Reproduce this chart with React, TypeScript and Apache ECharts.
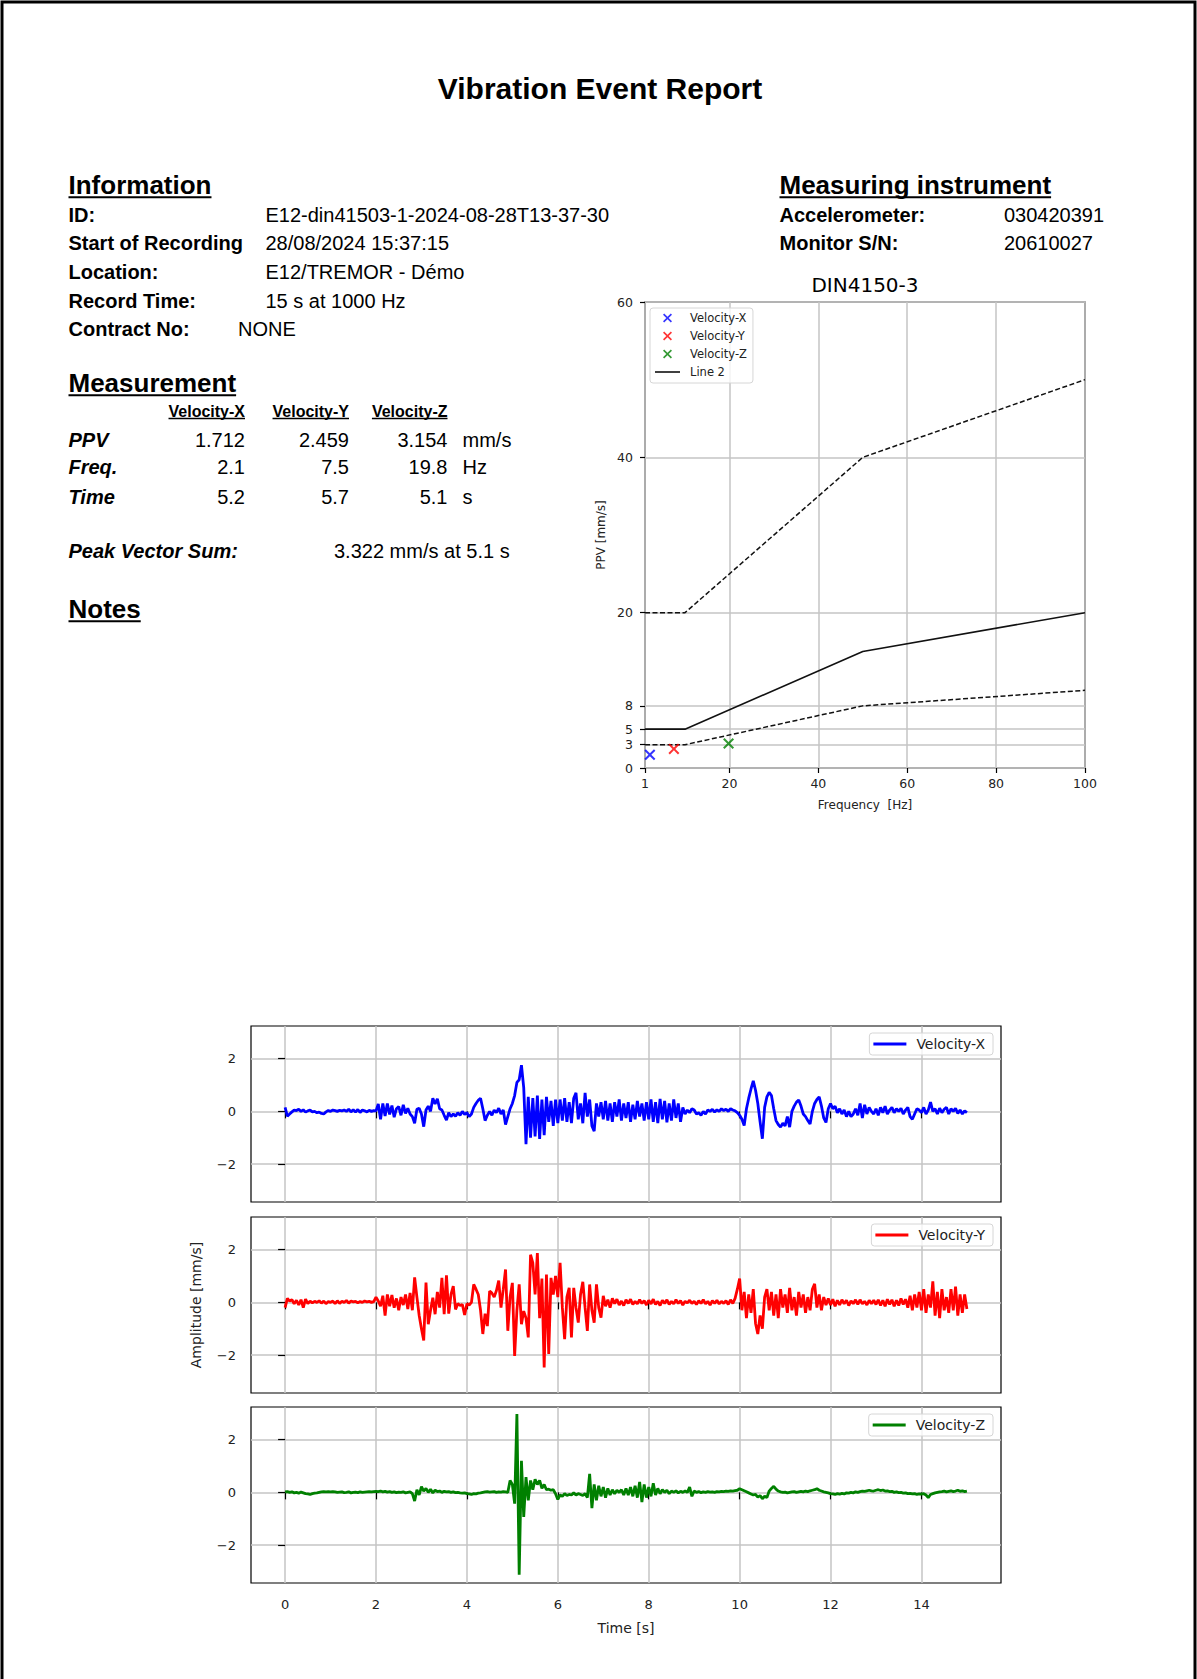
import React, { useEffect, useRef } from "react";
import * as echarts from "echarts";

// ---------------- text content ----------------
const REPORT_TITLE = "Vibration Event Report";
const INFO_LABELS = ["ID:", "Start of Recording", "Location:", "Record Time:", "Contract No:"];
const INFO_VALUES = ["E12-din41503-1-2024-08-28T13-37-30", "28/08/2024 15:37:15", "E12/TREMOR - Démo", "15 s at 1000 Hz", "NONE"];
const INSTRUMENT_LABELS = ["Accelerometer:", "Monitor S/N:"];
const INSTRUMENT_VALUES = ["030420391", "20610027"];
const CHANNELS = ["Velocity-X", "Velocity-Y", "Velocity-Z"];
const MEAS_ROWS = ["PPV", "Freq.", "Time"];
const MEAS_UNITS = ["mm/s", "Hz", "s"];
const PPV = [1.712, 2.459, 3.154];
const FREQ = [2.1, 7.5, 19.8];
const PEAK_TIME = [5.2, 5.7, 5.1];
const PVS_TEXT = "3.322 mm/s at 5.1 s";

// ---------------- DIN 4150-3 chart ----------------
const DIN_FREQ = [1, 10, 50, 100];
const DIN_UPPER = [20, 20, 40, 50];
const DIN_LINE2 = [5, 5, 15, 20];
const DIN_LOWER = [3, 3, 8, 10];
const DIN_X_TICKS = [1, 20, 40, 60, 80, 100];
const DIN_Y_TICKS = [0, 3, 5, 8, 20, 40, 60];

// ---------------- waveforms ----------------
const TIME_TICKS = [0, 2, 4, 6, 8, 10, 12, 14];
const AMP_TICKS = [-2, 0, 2];
const SAMPLE_DT = 0.05;

const VEL_X = [
  0.15, -0.18, -0.1, -0.02, 0.05, 0.03, 0.08, 0.0, 0.06, -0.03, 0.02, 0.05, -0.02, 0.0, -0.05, -0.03, -0.08, -0.1, -0.02, 0.03,
  0.0, 0.05, 0.03, 0.0, 0.04, 0.02, 0.05, 0.0, 0.08, -0.02, 0.06, -0.03, 0.07, -0.04, 0.05, 0.02, -0.02, 0.04, 0.0, 0.03,
  0.02, 0.28, -0.3, 0.3, -0.18, 0.3, -0.12, 0.22, -0.22, 0.1, 0.18, -0.15, 0.25, -0.08, 0.12, -0.1, -0.2, -0.45, 0.08, 0.12,
  -0.1, -0.58, 0.05, 0.2, 0.0, 0.5, 0.28, 0.48, 0.1, 0.05, -0.15, -0.33, -0.05, -0.2, -0.1, -0.18, -0.05, -0.15, 0.0, -0.12,
  -0.05, -0.2, -0.1, 0.15, 0.3, 0.42, 0.5, 0.1, -0.35, -0.15, 0.0, -0.15, 0.05, -0.05, 0.12, -0.1, 0.05, -0.5, -0.2, 0.1,
  0.3, 0.6, 1.1, 1.2, 1.75, 0.9, -1.25, 0.55, -1.0, 0.5, -0.95, 0.6, -1.05, 0.45, -0.9, 0.55, -0.4, 0.4, -0.55, 0.45,
  -0.45, 0.45, -0.35, 0.5, -0.4, 0.35, -0.45, 0.5, 0.7, -0.3, 0.3, -0.45, 0.7, -0.2, 0.45, -0.55, -0.75, 0.3, -0.2, 0.35,
  -0.3, 0.4, -0.35, 0.3, -0.4, 0.35, -0.2, 0.45, -0.35, 0.3, -0.25, 0.35, -0.4, 0.25, -0.3, 0.4, -0.2, 0.3, -0.35, 0.35,
  -0.3, 0.45, -0.4, 0.35, -0.45, 0.47, -0.3, 0.4, -0.42, 0.3, -0.35, 0.45, -0.25, 0.3, -0.4, 0.15, -0.1, 0.05, -0.05, 0.1,
  0.05, -0.1, -0.05, -0.15, 0.0, -0.1, 0.05, 0.0, 0.08, -0.03, 0.06, 0.0, 0.1, 0.03, 0.08, 0.0, 0.1, 0.05, 0.02, -0.05,
  -0.15, -0.3, -0.54, 0.1, 0.5, 0.85, 1.16, 0.8, 0.3, -0.4, -1.04, 0.15, 0.55, 0.72, 0.6, 0.1, -0.35, -0.5, -0.6, -0.45,
  -0.55, -0.2, -0.6, 0.0, 0.2, 0.35, 0.43, 0.2, -0.1, -0.2, -0.35, -0.48, 0.0, 0.3, 0.45, 0.55, 0.2, -0.25, -0.42, 0.1,
  0.3, 0.1, 0.2, -0.05, 0.1, -0.1, 0.05, -0.2, 0.0, -0.2, -0.1, 0.1, -0.15, 0.3, -0.25, 0.25, -0.1, 0.15, 0.0, -0.1,
  0.1, -0.15, 0.15, -0.05, 0.2, -0.1, 0.05, 0.15, -0.05, 0.1, 0.0, 0.12, -0.1, 0.05, 0.15, -0.2, -0.3, -0.1, 0.1, 0.05,
  -0.05, 0.15, -0.1, 0.05, 0.35, 0.0, 0.1, -0.1, 0.12, -0.05, 0.08, 0.15, -0.1, 0.1, 0.0, 0.12, -0.08, 0.05, -0.1, 0.02,
  -0.05,
];

const VEL_Y = [
  -0.2, 0.15, 0.05, 0.1, -0.05, 0.08, -0.1, 0.1, -0.2, 0.12, -0.05, 0.05, -0.02, 0.04, 0.0, 0.06, -0.03, 0.05, -0.05, 0.03,
  0.0, 0.05, -0.05, 0.06, -0.04, 0.04, 0.0, 0.07, -0.03, 0.05, 0.02, 0.04, -0.02, 0.03, 0.0, 0.05, 0.02, 0.04, 0.0, 0.03,
  0.2, 0.05, -0.15, 0.25, -0.5, 0.3, -0.15, 0.28, -0.2, 0.15, -0.3, 0.2, -0.1, 0.3, -0.25, 0.36, -0.3, 0.95, 0.2, -0.5,
  -1.0, -1.45, 0.75, -0.83, -0.3, 0.18, -0.45, 0.4, -0.2, 0.93, -0.45, 1.03, -0.43, 0.3, 0.62, -0.27, -0.05, -0.12, -0.08, -0.48,
  -0.05, -0.1, 0.0, 0.68, 0.5, 0.3, -0.3, -1.2, -0.43, -0.9, 0.43, 0.35, 0.2, 0.45, 0.83, -0.2, 0.5, 1.25, -1.08, 0.2,
  0.74, -2.03, -0.3, 0.68, -0.83, -0.33, -0.6, -1.33, 1.81, 1.5, 0.3, 1.87, -0.6, 0.9, -2.47, 1.06, -1.96, 0.93, 0.3, 1.0,
  0.2, 1.5, -0.2, -1.4, 0.2, 0.55, -1.33, 0.55, -0.2, -0.77, 0.3, 0.78, -0.2, -1.08, 0.68, -0.3, -0.77, 0.68, -0.2, -0.58,
  0.25, -0.15, 0.1, -0.2, 0.15, -0.05, 0.12, -0.1, 0.05, -0.12, 0.1, -0.04, 0.12, -0.08, 0.04, -0.06, 0.1, -0.04, 0.06, -0.1,
  0.08, -0.06, 0.12, -0.08, 0.04, -0.12, 0.08, -0.04, 0.1, -0.08, 0.04, -0.06, 0.1, -0.04, 0.06, -0.1, 0.04, -0.02, 0.08, -0.04,
  0.04, -0.08, 0.06, -0.04, 0.1, -0.06, 0.04, -0.1, 0.06, -0.04, 0.08, -0.06, 0.04, -0.04, 0.06, -0.08, 0.1, -0.04, 0.15, 0.5,
  0.9, -0.3, 0.4, -0.6, 0.3, -0.4, 0.5, -0.8, -1.2, -0.5, -1.0, 0.2, 0.5, -0.3, 0.4, -0.5, 0.3, -0.6, 0.5, -0.2,
  0.3, -0.4, 0.55, -0.3, 0.2, -0.5, 0.4, -0.2, 0.3, -0.4, 0.2, -0.3, 0.5, 0.7, -0.2, 0.3, -0.3, 0.2, -0.1, 0.15,
  -0.1, 0.12, -0.15, 0.08, -0.1, 0.1, -0.05, 0.08, -0.12, 0.06, -0.05, 0.1, -0.08, 0.1, -0.06, 0.04, -0.1, 0.08, -0.05, 0.08,
  -0.08, 0.1, -0.12, 0.08, -0.15, 0.12, -0.08, 0.1, -0.15, 0.08, -0.12, 0.15, -0.08, 0.12, -0.2, 0.25, -0.3, 0.3, -0.2, 0.4,
  -0.3, 0.5, -0.4, 0.3, -0.2, 0.8, -0.5, 0.4, -0.6, 0.5, -0.3, 0.2, -0.4, 0.5, -0.3, 0.6, -0.5, 0.3, -0.4, 0.3,
  -0.25,
];

const VEL_Z = [
  0.02, 0.03, 0.0, 0.02, -0.02, 0.0, -0.03, 0.01, -0.02, -0.05, -0.06, -0.08, -0.05, -0.03, -0.02, 0.0, 0.02, 0.03, 0.02, 0.03,
  0.02, 0.03, 0.02, 0.0, 0.01, 0.02, -0.01, 0.0, 0.02, -0.02, 0.0, 0.01, -0.01, 0.02, 0.0, 0.01, 0.02, 0.03, 0.02, 0.03,
  0.04, 0.03, 0.05, 0.02, 0.04, 0.01, 0.03, 0.0, 0.02, -0.01, 0.01, 0.0, 0.02, -0.02, 0.0, 0.02, -0.05, -0.33, 0.1, -0.1,
  0.22, 0.05, 0.15, 0.0, 0.12, -0.02, 0.08, 0.03, 0.05, 0.0, 0.04, 0.02, 0.03, 0.0, 0.02, -0.01, 0.0, -0.02, -0.03, -0.02,
  -0.05, -0.06, -0.08, -0.05, -0.06, -0.03, -0.02, 0.0, 0.02, 0.03, 0.01, 0.02, 0.03, 0.0, 0.02, 0.01, 0.03, 0.02, 0.0, 0.45,
  0.3, -0.43, 2.97, -3.13, 1.2, -0.93, 0.58, -0.3, 0.45, 0.1, 0.5, 0.3, 0.45, 0.15, 0.3, 0.1, 0.12, 0.08, 0.1, -0.05,
  -0.27, -0.1, -0.15, -0.05, -0.12, -0.08, -0.1, -0.02, -0.1, -0.05, -0.08, -0.12, -0.05, -0.2, 0.7, -0.6, 0.3, -0.3, 0.25, -0.15,
  0.2, -0.2, 0.15, -0.1, 0.1, -0.05, 0.08, 0.0, 0.1, -0.1, 0.15, -0.1, 0.2, -0.15, 0.25, -0.2, 0.4, -0.37, 0.3, -0.2,
  0.2, -0.15, 0.35, -0.1, 0.15, -0.05, 0.1, 0.0, 0.08, -0.05, 0.05, 0.0, 0.06, -0.02, 0.04, 0.0, 0.05, 0.0, 0.2, -0.15,
  0.05, 0.0, 0.03, -0.01, 0.02, 0.0, 0.03, 0.01, 0.02, 0.0, 0.03, 0.02, 0.04, 0.03, 0.05, 0.04, 0.06, 0.05, 0.07, 0.08,
  0.14, 0.1, 0.06, 0.02, -0.02, -0.06, -0.1, -0.08, -0.18, -0.12, -0.24, -0.15, -0.2, 0.05, 0.15, 0.23, 0.12, 0.05, 0.02, 0.0,
  0.01, -0.02, 0.0, 0.02, 0.03, 0.0, 0.02, 0.04, 0.02, 0.05, 0.03, 0.06, 0.08, 0.1, 0.14, 0.08, 0.05, 0.02, 0.0, -0.02,
  -0.05, -0.06, -0.08, -0.05, -0.07, -0.04, -0.06, -0.02, -0.03, 0.0, -0.02, 0.02, 0.0, 0.03, 0.05, 0.04, 0.06, 0.08, 0.06, 0.05,
  0.08, 0.1, 0.07, 0.09, 0.05, 0.06, 0.03, 0.04, 0.0, 0.02, -0.01, 0.0, -0.03, -0.02, -0.05, -0.04, -0.06, -0.05, -0.08, -0.06,
  -0.07, -0.05, -0.1, -0.2, -0.08, -0.05, -0.02, 0.0, 0.02, 0.03, 0.05, 0.02, 0.04, 0.06, 0.03, 0.05, 0.08, 0.04, 0.06, 0.03,
  0.05,
];

const WAVES = [VEL_X, VEL_Y, VEL_Z];
const WAVE_COLORS = ["#0000ff", "#ff0000", "#008000"];

const SANS = "Liberation Sans";
const MPL = "DejaVu Sans";
const CROSS = "path://M0,1.3 L1.3,0 L5,3.7 L8.7,0 L10,1.3 L6.3,5 L10,8.7 L8.7,10 L5,6.3 L1.3,10 L0,8.7 L3.7,5 Z";
const DIN_LINE_ICON = "path://M0,0 L25,0 L25,1.6 L0,1.6 Z";
const WAVE_LINE_ICON = "path://M0,0 L33,0 L33,3 L0,3 Z";

function measure(text: string, font: string): number {
  const c = document.createElement("canvas").getContext("2d");
  if (!c) return text.length * 10;
  c.font = font;
  return c.measureText(text).width;
}

function txt(text: string, x: number, y: number, size: number, opts: any = {}) {
  return {
    type: "text",
    silent: true,
    style: {
      text,
      x,
      y,
      fontFamily: opts.family || SANS,
      fontSize: size,
      fontWeight: opts.weight || "normal",
      fontStyle: opts.style || "normal",
      fill: opts.color || "#000",
      align: opts.align || "left",
      verticalAlign: "middle",
    },
  };
}

function underlined(text: string, x: number, y: number, size: number, weight: string, align: string, lw: number) {
  const w = measure(text, `${weight} ${size}px "${SANS}"`);
  const x0 = align === "right" ? x - w : x;
  const uy = y + size * 0.47;
  return [
    txt(text, x, y, size, { weight, align }),
    { type: "line", silent: true, shape: { x1: x0, y1: uy, x2: x0 + w, y2: uy }, style: { stroke: "#000", lineWidth: lw } },
  ];
}

function buildGraphics() {
  const g: any[] = [];
  g.push({ type: "rect", silent: true, shape: { x: 2, y: 2, width: 1193, height: 1720 }, style: { fill: "none", stroke: "#000", lineWidth: 3 } });
  g.push(txt(REPORT_TITLE, 600, 88, 30, { weight: "bold", align: "center" }));

  // Information
  g.push(...underlined("Information", 68.5, 185, 26, "bold", "left", 2));
  const infoY = [215, 243, 272, 301, 329];
  INFO_LABELS.forEach((l, i) => {
    g.push(txt(l, 68.5, infoY[i], 20, { weight: "bold" }));
    g.push(txt(INFO_VALUES[i], i === 4 ? 238 : 265.5, infoY[i], 20));
  });

  // Measuring instrument
  g.push(...underlined("Measuring instrument", 779.5, 185, 26, "bold", "left", 2));
  const instY = [215, 243];
  INSTRUMENT_LABELS.forEach((l, i) => {
    g.push(txt(l, 779.5, instY[i], 20, { weight: "bold" }));
    g.push(txt(INSTRUMENT_VALUES[i], 1004, instY[i], 20));
  });

  // Measurement
  g.push(...underlined("Measurement", 68.5, 383, 26, "bold", "left", 2));
  const colX = [245, 349, 447.5];
  CHANNELS.forEach((c, i) => g.push(...underlined(c, colX[i], 411, 16, "bold", "right", 1.3)));
  const rowY = [440, 467, 497];
  const rowVals = [PPV.map((v) => v.toFixed(3)), FREQ.map((v) => v.toFixed(1)), PEAK_TIME.map((v) => v.toFixed(1))];
  MEAS_ROWS.forEach((r, i) => {
    g.push(txt(r, 68.5, rowY[i], 20, { weight: "bold", style: "italic" }));
    rowVals[i].forEach((v, j) => g.push(txt(v, colX[j], rowY[i], 20, { align: "right" })));
    g.push(txt(MEAS_UNITS[i], 462.5, rowY[i], 20));
  });
  g.push(txt("Peak Vector Sum:", 68.5, 551, 20, { weight: "bold", style: "italic" }));
  g.push(txt(PVS_TEXT, 334, 551, 20));
  g.push(...underlined("Notes", 68.5, 609, 26, "bold", "left", 2));

  // DIN chart title
  g.push(txt("DIN4150-3", 865, 285, 20, { family: MPL, align: "center" }));
  return g;
}

const GRID_LINE = { show: true, lineStyle: { color: "#c4c4c4", width: 1.5 } };
const TICK_STYLE = { color: "#000", width: 1.2 };
const minusFmt = (v: number) => (v < 0 ? "\u2212" + Math.abs(v) : String(v));

function buildOption() {
  const waveTop = [1026, 1217, 1407];
  const grids: any[] = [
    { left: 645, top: 302, width: 440, height: 466, show: true, borderColor: "#000", borderWidth: 1.2, backgroundColor: "transparent" },
  ];
  waveTop.forEach((t) => grids.push({ left: 251, top: t, width: 750, height: 176, show: true, borderColor: "#000", borderWidth: 1.2, backgroundColor: "transparent" }));

  const xAxes: any[] = [
    {
      type: "value", gridIndex: 0, min: 1, max: 100,
      name: "Frequency  [Hz]", nameLocation: "middle", nameGap: 31,
      nameTextStyle: { fontFamily: MPL, fontSize: 12, color: "#222" },
      axisLine: { show: false },
      axisTick: { show: true, customValues: DIN_X_TICKS, length: 5, lineStyle: TICK_STYLE },
      axisLabel: { customValues: DIN_X_TICKS, margin: 9, fontFamily: MPL, fontSize: 12.5, color: "#222" },
      splitLine: GRID_LINE,
    },
  ];
  const yAxes: any[] = [
    {
      type: "value", gridIndex: 0, min: 0, max: 60,
      name: "PPV [mm/s]", nameLocation: "middle", nameGap: 38, nameRotate: 90,
      nameTextStyle: { fontFamily: MPL, fontSize: 12, color: "#222" },
      axisLine: { show: false },
      axisTick: { show: true, customValues: DIN_Y_TICKS, length: 5, lineStyle: TICK_STYLE },
      axisLabel: { customValues: DIN_Y_TICKS, margin: 12, fontFamily: MPL, fontSize: 12.5, color: "#222" },
      splitLine: GRID_LINE,
    },
  ];
  waveTop.forEach((_, i) => {
    xAxes.push({
      type: "value", gridIndex: i + 1, min: -0.75, max: 15.75,
      name: i === 2 ? "Time [s]" : "", nameLocation: "middle", nameGap: 38,
      nameTextStyle: { fontFamily: MPL, fontSize: 14, color: "#222" },
      axisLine: { show: false },
      axisTick: { show: true, customValues: TIME_TICKS, length: 7, lineStyle: TICK_STYLE },
      axisLabel: { show: i === 2, customValues: TIME_TICKS, margin: 15, fontFamily: MPL, fontSize: 13, color: "#222" },
      splitLine: GRID_LINE,
    });
    yAxes.push({
      type: "value", gridIndex: i + 1, min: -3.44, max: 3.24,
      name: i === 1 ? "Amplitude [mm/s]" : "", nameLocation: "middle", nameGap: 48, nameRotate: 90,
      nameTextStyle: { fontFamily: MPL, fontSize: 14, color: "#222" },
      axisLine: { show: false },
      axisTick: { show: true, customValues: AMP_TICKS, length: 7, lineStyle: TICK_STYLE },
      axisLabel: { customValues: AMP_TICKS, margin: 15, fontFamily: MPL, fontSize: 13, color: "#222", formatter: minusFmt },
      splitLine: GRID_LINE,
    });
  });

  const pair = (xs: number[], ys: number[]) => xs.map((x, i) => [x, ys[i]]);
  const series: any[] = [
    { type: "line", name: "DIN upper", xAxisIndex: 0, yAxisIndex: 0, data: pair(DIN_FREQ, DIN_UPPER), symbol: "none", silent: true, lineStyle: { color: "#111", width: 1.5, type: [5, 2.5] } },
    { type: "line", name: "Line 2", xAxisIndex: 0, yAxisIndex: 0, data: pair(DIN_FREQ, DIN_LINE2), symbol: "none", silent: true, lineStyle: { color: "#111", width: 1.6 }, itemStyle: { color: "#111" } },
    { type: "line", name: "DIN lower", xAxisIndex: 0, yAxisIndex: 0, data: pair(DIN_FREQ, DIN_LOWER), symbol: "none", silent: true, lineStyle: { color: "#111", width: 1.5, type: [5, 2.5] } },
  ];
  CHANNELS.forEach((c, i) => {
    series.push({ type: "scatter", name: c, xAxisIndex: 0, yAxisIndex: 0, data: [[FREQ[i], PPV[i]]], symbol: CROSS, symbolSize: 11, symbolKeepAspect: true, itemStyle: { color: WAVE_COLORS[i] }, silent: true, z: 5 });
  });
  WAVES.forEach((w, i) => {
    series.push({
      type: "line", name: "wave:" + CHANNELS[i], xAxisIndex: i + 1, yAxisIndex: i + 1,
      data: w.map((v, k) => [k * SAMPLE_DT, v]), symbol: "none", silent: true,
      lineStyle: { color: WAVE_COLORS[i], width: 2.8 }, itemStyle: { color: WAVE_COLORS[i] },
    });
  });

  const legendBox = { backgroundColor: "rgba(255,255,255,0.8)", borderColor: "#d6d6d6", borderWidth: 1, borderRadius: 3, selectedMode: false };
  const legends: any[] = [
    {
      ...legendBox, data: [...CHANNELS, { name: "Line 2", icon: DIN_LINE_ICON }], orient: "vertical", left: 650, top: 308,
      padding: [3, 6, 4, 5], itemWidth: 25, itemHeight: 9, itemGap: 4, symbolKeepAspect: true,
      textStyle: { fontFamily: MPL, fontSize: 11.5, color: "#222", lineHeight: 14, padding: [0, 0, 0, 5] },
    },
  ];
  waveTop.forEach((t, i) => {
    legends.push({
      ...legendBox, data: [{ name: "wave:" + CHANNELS[i], icon: WAVE_LINE_ICON }], formatter: (n: string) => n.replace("wave:", ""),
      orient: "horizontal", right: 204, top: t + 7, padding: [4, 8, 4, 4], itemWidth: 33, itemHeight: 14, symbolKeepAspect: true,
      textStyle: { fontFamily: MPL, fontSize: 14, color: "#222", padding: [0, 0, 0, 5] },
    });
  });

  return {
    animation: false,
    backgroundColor: "#fff",
    grid: grids,
    xAxis: xAxes,
    yAxis: yAxes,
    legend: legends,
    series,
    graphic: { elements: buildGraphics() },
  };
}

export default function App() {
  const ref = useRef<HTMLDivElement>(null);
  useEffect(() => {
    if (!ref.current) return;
    const chart = echarts.init(ref.current, undefined, { renderer: "svg" });
    chart.setOption(buildOption() as any);
    return () => chart.dispose();
  }, []);
  return <div ref={ref} style={{ position: "absolute", left: 0, top: 0, width: 1197, height: 1679 }} />;
}
